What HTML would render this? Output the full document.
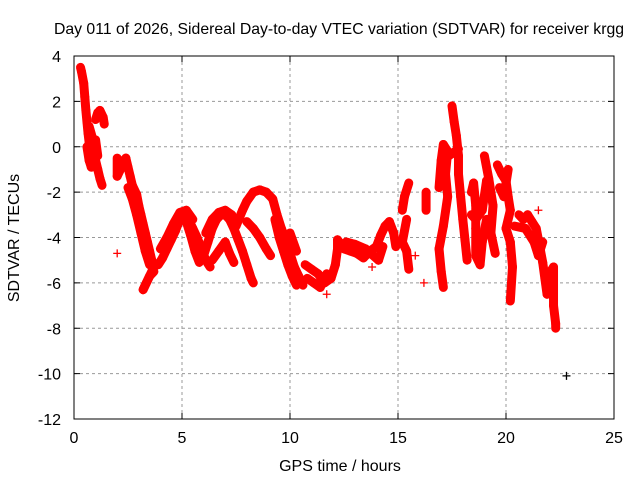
<!DOCTYPE html>
<html><head><meta charset="utf-8"><style>
body{margin:0;background:#fff;}
svg{display:block;font-family:"Liberation Sans",sans-serif;}
</style></head><body>
<svg id="chart" width="640" height="480" viewBox="0 0 640 480">
<rect width="640" height="480" fill="#fff"/>
<g id="grid"></g>
<g id="marks"></g>
<rect x="74" y="56" width="540" height="363" fill="none" stroke="#000" stroke-width="1"/>
<g id="ticks"></g>
<text x="339" y="34" text-anchor="middle" font-size="15.8">Day 011 of 2026, Sidereal Day-to-day VTEC variation (SDTVAR) for receiver krgg</text>
<text x="340" y="471" text-anchor="middle" font-size="16">GPS time / hours</text>
<text transform="translate(19,238) rotate(-90)" text-anchor="middle" font-size="16">SDTVAR / TECUs</text>
</svg>
<script>
const xTicks=[0,5,10,15,20,25];
const yTicks=[4,2,0,-2,-4,-6,-8,-10,-12];
const trackA=[[0.3,3.5],[0.35,3.3],[0.45,2.8],[0.5,2.2],[0.55,1.6],[0.6,1.1],[0.65,0.6],[0.7,0.2],[0.75,-0.3],[0.8,-0.7],[0.7,0.9],[0.85,0.4],[0.9,-0.1],[1.0,-0.6],[1.1,-1.0],[1.2,-1.4],[1.3,-1.7],[1.0,1.2],[1.1,1.5],[1.2,1.6],[1.35,1.3],[1.4,1.0]];
const trackA2=[[0.6,0.0],[0.7,-0.6],[0.8,-0.9],[0.9,-0.2],[1.0,0.3],[1.1,-0.4]];
const trackB=[[2.0,-0.5],[2.0,-1.3],[2.4,-0.5],[2.5,-0.9],[2.6,-1.3],[2.7,-1.7],[2.9,-2.1],[3.0,-2.6],[3.1,-3.0],[3.2,-3.4],[3.3,-3.8],[3.4,-4.2],[3.5,-4.6],[3.6,-5.0],[3.7,-5.3],[3.2,-6.3],[3.35,-6.0],[3.5,-5.7],[3.7,-5.5]];
const trackB2=[[2.5,-1.8],[2.7,-2.3],[2.9,-3.0],[3.1,-3.8],[3.3,-4.6],[3.5,-5.2]];
const trackC=[[3.9,-5.2],[4.1,-4.9],[4.3,-4.5],[4.5,-4.1],[4.7,-3.7],[4.9,-3.2],[5.1,-3.0],[5.3,-3.2],[5.5,-3.6],[5.7,-4.0],[5.9,-4.5],[6.1,-5.0],[6.3,-5.3],[5.2,-3.3],[5.4,-3.9],[5.6,-4.6],[5.8,-5.1]];
const trackC2=[[4.0,-4.5],[4.3,-4.0],[4.6,-3.4],[4.9,-2.9],[5.2,-2.8],[5.5,-3.2]];
const trackD=[[6.0,-4.8],[6.2,-4.2],[6.4,-3.6],[6.6,-3.2],[6.8,-3.0],[7.0,-3.0],[7.2,-3.2],[7.4,-3.6],[7.6,-4.1],[7.8,-4.6],[8.0,-5.2],[8.2,-5.8],[8.3,-6.0],[6.4,-5.0],[6.7,-4.6],[7.0,-4.2],[7.2,-4.7],[7.4,-5.1]];
const trackD2=[[6.1,-3.8],[6.4,-3.2],[6.7,-2.9],[7.0,-2.8],[7.3,-3.0],[7.5,-3.4]];
const trackE=[[7.5,-3.5],[7.8,-2.8],[8.0,-2.4],[8.3,-2.0],[8.6,-1.9],[8.9,-2.0],[9.2,-2.3],[9.4,-3.0],[9.6,-3.6],[9.8,-4.1],[10.0,-4.7],[10.2,-5.3],[10.4,-5.7],[10.6,-6.1],[8.0,-3.3],[8.3,-3.6],[8.6,-4.0],[8.9,-4.5],[9.1,-4.8],[10.0,-3.8],[10.3,-4.6]];
const trackE2=[[9.3,-3.2],[9.5,-4.0],[9.7,-4.6],[9.9,-5.2],[10.1,-5.7],[10.3,-6.1]];
const trackF=[[10.7,-5.2],[11.0,-5.4],[11.3,-5.6],[11.6,-6.0],[11.9,-5.8],[12.1,-5.2],[12.2,-4.5],[12.2,-4.1],[12.5,-4.5],[12.8,-4.6],[13.1,-4.7],[13.4,-4.9],[13.7,-4.6],[14.0,-4.4],[14.2,-3.9],[14.4,-3.5],[14.6,-3.3],[14.8,-3.8],[14.9,-4.4]];
const trackF2=[[10.8,-5.8],[11.1,-6.0],[11.4,-6.2],[11.7,-5.6],[12.6,-4.2],[13.0,-4.3],[13.5,-4.5],[14.1,-5.0],[14.3,-4.4]];
const trackG=[[15.2,-2.8],[15.3,-2.2],[15.5,-1.6],[15.4,-3.2],[15.2,-4.2],[15.4,-4.6],[15.5,-5.4],[16.3,-2.0],[16.3,-2.8],[16.2,-6.0],[16.9,-1.8],[17.0,-0.6],[17.1,0.1],[17.3,-0.2],[17.2,-1.2],[17.3,-2.2],[17.1,-3.5],[16.9,-4.5],[17.0,-5.5],[17.1,-6.2]];
const trackH=[[17.5,1.8],[17.6,1.1],[17.7,0.5],[17.8,-0.4],[17.8,-1.2],[17.9,-2.2],[18.0,-3.2],[18.1,-4.1],[18.2,-5.0],[18.4,-2.0],[18.5,-1.6],[18.6,-2.6],[18.6,-3.6],[18.6,-4.8],[18.8,-5.2],[18.9,-4.2],[19.1,-3.2],[19.0,-0.4],[19.2,-1.4],[19.4,-2.6],[19.3,-3.8],[19.5,-4.7]];
const trackH2=[[17.2,-0.5],[17.5,-0.3],[17.8,-0.1],[18.4,-3.0],[18.6,-3.2],[18.9,-2.8],[19.1,-1.5],[19.2,-2.2]];
const trackI=[[19.6,-0.8],[19.8,-1.2],[20.0,-1.5],[20.1,-2.2],[20.2,-2.8],[20.0,-3.6],[20.2,-4.2],[20.3,-5.3],[20.2,-6.8],[20.6,-3.0],[20.8,-3.2],[21.0,-3.0],[21.2,-3.3],[21.4,-3.6],[21.5,-4.1],[21.6,-4.6],[21.7,-5.1],[21.8,-5.8],[21.9,-6.5],[22.0,-5.6],[22.2,-5.3],[22.2,-6.4],[22.2,-7.0],[22.3,-7.8],[22.3,-8.0]];
const trackI2=[[19.7,-1.8],[19.9,-2.2],[20.1,-1.0],[20.4,-3.5],[20.9,-3.6],[21.3,-4.2],[21.5,-4.8],[21.7,-4.2]];
const singles=[[2.0,-4.7],[9.7,-4.6],[11.7,-6.5],[13.8,-5.3],[15.8,-4.8],[21.5,-2.8]];
const outliers=[[22.8,-10.1]];
const tracks=[trackA,trackA2,trackB,trackB2,trackC,trackC2,trackD,trackD2,trackE,trackE2,trackF,trackF2,trackG,trackH,trackH2,trackI,trackI2];
const NS='http://www.w3.org/2000/svg';
const X0=74,X1=614,Y0=56,Y1=419;
function px(t){return X0+(t-0)/(25-0)*(X1-X0);}
function py(v){return Y0+(4-v)/(4-(-12))*(Y1-Y0);}
const grid=document.getElementById('grid'),ticks=document.getElementById('ticks'),marks=document.getElementById('marks');
function mk(tag,attrs,parent){const e=document.createElementNS(NS,tag);for(const k in attrs)e.setAttribute(k,attrs[k]);parent.appendChild(e);return e;}
xTicks.forEach(t=>{
 const x=px(t);
 if(t>0&&t<25){const g=mk('line',{x1:x,x2:x,y1:Y0,y2:Y1,stroke:'#999','stroke-dasharray':'3,3'},grid);
 
 }
 mk('line',{x1:x,x2:x,y1:Y1,y2:Y1-6,stroke:'#000'},ticks);
 mk('line',{x1:x,x2:x,y1:Y0,y2:Y0+6,stroke:'#000'},ticks);
 const l=mk('text',{x:x,y:Y1+24,'text-anchor':'middle','font-size':16},ticks);l.textContent=t;
 
 
});
yTicks.forEach(v=>{
 const y=py(v);
 if(v<4&&v>-12){const g=mk('line',{x1:X0,x2:X1,y1:y,y2:y,stroke:'#999','stroke-dasharray':'3,3'},grid);
 
 }
 mk('line',{x1:X0,x2:X0+6,y1:y,y2:y,stroke:'#000'},ticks);
 mk('line',{x1:X1,x2:X1-6,y1:y,y2:y,stroke:'#000'},ticks);
 const l=mk('text',{x:X0-13,y:y+6,'text-anchor':'end','font-size':16},ticks);l.textContent=v;
 
 
});
function plus(t,v,col){
 const x=px(t),y=py(v);
 const p=mk('path',{d:`M${x-4},${y}H${x+4}M${x},${y-4}V${y+4}`,stroke:col,'stroke-width':1.3,fill:'none'},marks);
 
 
}
tracks.forEach(tr=>{
 for(let i=1;i<tr.length;i++){
  const a=tr[i-1],b=tr[i];
  if(Math.abs(a[0]-b[0])>0.6||Math.abs(a[1]-b[1])>1.5)continue;
  const s=mk('line',{x1:px(a[0]),y1:py(a[1]),x2:px(b[0]),y2:py(b[1]),stroke:'#f00','stroke-width':9,'stroke-linecap':'round'},marks);
  
  
 }
 tr.forEach(p=>plus(p[0],p[1],'#f00'));
});
singles.forEach(p=>plus(p[0],p[1],'#f00'));
outliers.forEach(p=>plus(p[0],p[1],'#000'));
</script>
</body></html>
